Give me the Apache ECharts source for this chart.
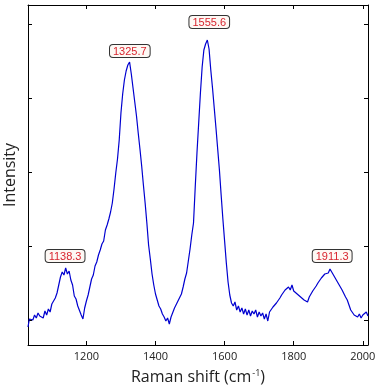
<!DOCTYPE html>
<html>
<head>
<meta charset="utf-8">
<script src="https://cdn.jsdelivr.net/npm/echarts@6/dist/echarts.min.js"></script>
<style>
  html, body { margin: 0; padding: 0; background: #fff; }
  #app { width: 376px; height: 388px; }
</style>
</head>
<body>
<div id="app"></div>
<script>
// Raman shift (cm-1) / intensity (arb. units)
const spectrum = [
  [1031, 18], [1035, 26], [1040, 28], [1045, 25], [1050, 30], [1055, 27], [1060, 32], [1065, 29],
  [1070, 31], [1075, 27], [1080, 34], [1085, 30], [1090, 36], [1095, 33], [1100, 41], [1105, 40],
  [1110, 47], [1115, 52], [1120, 60], [1125, 68], [1130, 73], [1135, 70], [1140, 77], [1145, 71],
  [1150, 74], [1155, 65], [1160, 60], [1165, 49], [1170, 46], [1175, 39], [1180, 40], [1185, 30],
  [1190, 26], [1195, 37], [1200, 44], [1205, 50], [1210, 58], [1215, 66], [1220, 70], [1225, 79],
  [1230, 83], [1235, 90], [1240, 95], [1245, 101], [1250, 104], [1255, 115], [1260, 120], [1265, 126],
  [1270, 133], [1275, 142], [1280, 156], [1285, 172], [1290, 186], [1295, 205], [1300, 232], [1305, 251],
  [1310, 265], [1315, 274], [1320, 280], [1325, 283], [1330, 271], [1335, 257], [1340, 243], [1345, 229],
  [1350, 212], [1355, 196], [1360, 179], [1365, 160], [1370, 142], [1375, 122], [1380, 100], [1385, 86],
  [1390, 71], [1395, 60], [1400, 51], [1405, 45], [1410, 39], [1415, 36], [1420, 31], [1425, 28],
  [1430, 24], [1435, 27], [1440, 21], [1445, 28], [1450, 30], [1455, 37], [1460, 36], [1465, 44],
  [1470, 43], [1475, 51], [1480, 58], [1485, 66], [1490, 72], [1495, 84], [1500, 96], [1505, 110],
  [1510, 122], [1515, 158], [1520, 192], [1525, 222], [1530, 252], [1535, 278], [1540, 295], [1545, 301],
  [1550, 305], [1555, 296], [1560, 275], [1565, 257], [1570, 237], [1575, 217], [1580, 196], [1585, 175],
  [1590, 150], [1595, 126], [1600, 104], [1605, 82], [1610, 63], [1615, 50], [1620, 42], [1625, 39],
  [1630, 43], [1635, 35], [1640, 39], [1645, 33], [1650, 37], [1655, 31], [1660, 36], [1665, 30],
  [1670, 35], [1675, 29], [1680, 34], [1685, 31], [1690, 35], [1695, 28], [1700, 33], [1705, 29],
  [1710, 32], [1715, 26], [1720, 31], [1725, 24], [1730, 33], [1735, 34], [1740, 38], [1745, 37],
  [1750, 42], [1755, 44], [1760, 47], [1765, 50], [1770, 49], [1775, 55], [1780, 53], [1785, 58],
  [1790, 55], [1795, 60], [1800, 54], [1805, 56], [1810, 51], [1815, 53], [1820, 48], [1825, 50],
  [1830, 45], [1835, 46], [1840, 43], [1845, 48], [1850, 50], [1855, 54], [1860, 56], [1865, 59],
  [1870, 62], [1875, 64], [1880, 67], [1885, 68], [1890, 71], [1895, 73], [1900, 72], [1905, 76],
  [1910, 73], [1915, 72], [1920, 67], [1925, 66], [1930, 61], [1935, 60], [1940, 55], [1945, 53],
  [1950, 48], [1955, 45], [1960, 40], [1965, 35], [1970, 34], [1975, 30], [1980, 32], [1985, 28],
  [1990, 31], [1995, 27], [2000, 30], [2005, 28], [2010, 33], [2015, 29]
];

const peakPositions = [1138.3, 1325.7, 1555.6, 1911.3];
const peakHeights = [76, 283, 305, 75];
const peakLabels = ['1138.3', '1325.7', '1555.6', '1911.3'];

const xTicks = [1200, 1400, 1600, 1800, 2000];
const yTicks = [25, 99, 173, 247, 321];

const X_MIN = 1031, X_MAX = 2015;
const Y_MIN = 0, Y_MAX = 340;
const labelGap = [7, 5, 12, 8];

const chart = echarts.init(document.getElementById('app'));

const frameAxis = (extra) => Object.assign({
  type: 'value',
  axisLine: { show: true, onZero: false, lineStyle: { color: '#000', width: 1 } },
  splitLine: { show: false },
  axisTick: { show: true, inside: true, length: 4, lineStyle: { color: '#000' } }
}, extra);

chart.setOption({
  backgroundColor: '#fff',
  animation: false,
  grid: { left: 28, right: 8, top: 5, bottom: 43, outerBoundsMode: 'none' },
  xAxis: [
    frameAxis({
      min: X_MIN, max: X_MAX, position: 'bottom',
      axisTick: { show: true, inside: true, length: 4, customValues: xTicks, lineStyle: { color: '#000' } },
      axisLabel: {
        customValues: xTicks, margin: 6, fontSize: 11, color: '#222', fontFamily: 'Open Sans',
        formatter: v => String(v)
      },
      name: 'Raman shift (cm{sup|-1})',
      nameLocation: 'middle',
      nameGap: 24,
      nameTextStyle: {
        fontSize: 16, color: '#222', fontFamily: 'Open Sans',
        rich: { sup: { fontSize: 9, color: '#222', fontFamily: 'Open Sans', verticalAlign: 'top', padding: [0, 0, 8, 1] } }
      }
    }),
    frameAxis({
      min: X_MIN, max: X_MAX, position: 'top',
      axisTick: { show: true, inside: true, length: 4, customValues: xTicks, lineStyle: { color: '#000' } },
      axisLabel: { show: false }
    })
  ],
  yAxis: [
    frameAxis({
      min: Y_MIN, max: Y_MAX, position: 'left',
      axisTick: { show: true, inside: true, length: 4, customValues: yTicks, lineStyle: { color: '#000' } },
      axisLabel: { show: false },
      name: 'Intensity',
      nameLocation: 'middle',
      nameGap: 10,
      nameTextStyle: { fontSize: 16, color: '#222', fontFamily: 'Open Sans' }
    }),
    frameAxis({
      min: Y_MIN, max: Y_MAX, position: 'right',
      axisTick: { show: true, inside: true, length: 4, customValues: yTicks, lineStyle: { color: '#000' } },
      axisLabel: { show: false }
    })
  ],
  series: [{
    type: 'line',
    data: spectrum,
    showSymbol: false,
    symbol: 'none',
    lineStyle: { color: '#0000d0', width: 1.2 },
    markPoint: {
      symbol: 'circle',
      symbolSize: 0,
      data: peakPositions.map((p, i) => ({
        coord: [p, peakHeights[i]],
        value: peakLabels[i],
        label: {
          show: true,
          position: 'top',
          distance: labelGap[i],
          formatter: '{c}',
          fontSize: 11,
          fontFamily: 'Liberation Sans',
          color: '#d8252f',
          backgroundColor: '#fdf8f4',
          borderColor: '#333',
          borderWidth: 1,
          borderRadius: 3,
          padding: [1, 3, 0, 3]
        }
      }))
    }
  }]
});
</script>
</body>
</html>
